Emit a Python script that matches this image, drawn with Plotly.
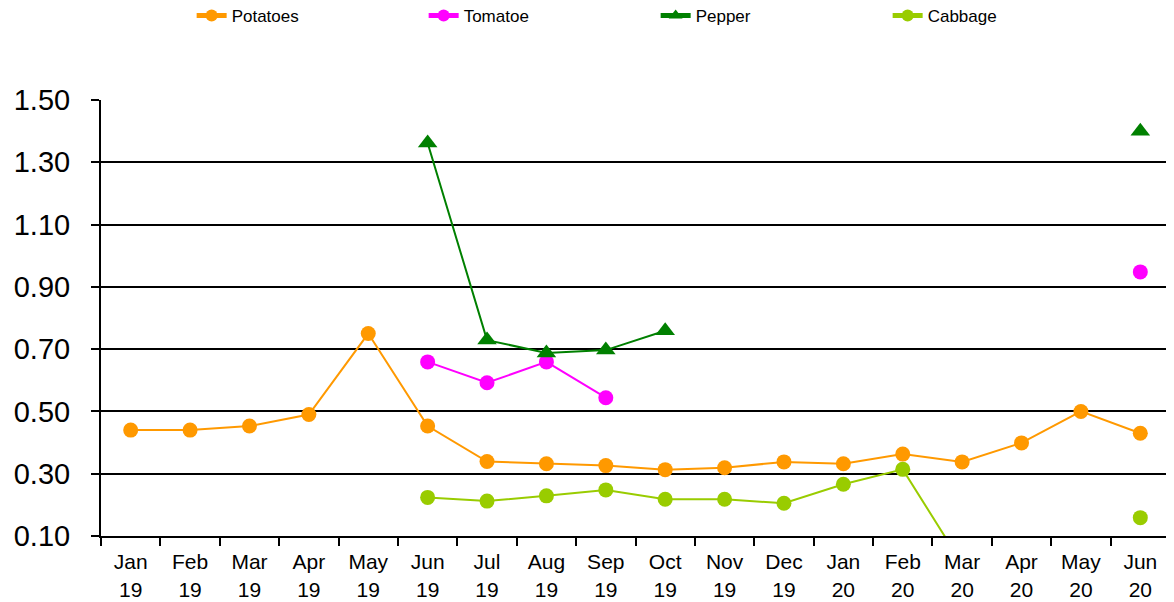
import plotly.graph_objects as go

months = ["Jan<br>19", "Feb<br>19", "Mar<br>19", "Apr<br>19", "May<br>19", "Jun<br>19",
          "Jul<br>19", "Aug<br>19", "Sep<br>19", "Oct<br>19", "Nov<br>19", "Dec<br>19",
          "Jan<br>20", "Feb<br>20", "Mar<br>20", "Apr<br>20", "May<br>20", "Jun<br>20"]

potatoes = [0.44, 0.44, 0.453, 0.49, 0.75, 0.453, 0.339, 0.332, 0.326, 0.313, 0.319, 0.338,
            0.332, 0.363, 0.338, 0.399, 0.50, 0.43]
tomatoe = [None, None, None, None, None, 0.659, 0.592, 0.659, 0.544, None, None, None,
           None, None, None, None, None, 0.948]
pepper = [None, None, None, None, None, 1.362, 0.729, 0.688, 0.697, 0.759, None, None,
          None, None, None, None, None, 1.40]
cabbage = [None, None, None, None, None, 0.224, 0.212, 0.229, 0.248, 0.218, 0.218, 0.205,
           0.266, 0.314, 0.01, None, None, 0.159]

series = [
    ("Potatoes", potatoes, "#FF9900", "circle", 15),
    ("Tomatoe", tomatoe, "#FF00FF", "circle", 15),
    ("Pepper", pepper, "#008000", "triangle-up", 17),
    ("Cabbage", cabbage, "#99CC00", "circle", 15),
]

fig = go.Figure()
for name, vals, color, sym, size in series:
    fig.add_trace(go.Scatter(
        x=months, y=vals, name=name, mode="lines+markers",
        line=dict(color=color, width=2),
        marker=dict(color=color, symbol=sym, size=size),
        connectgaps=False,
    ))

# the page body has an 8px margin, so the figure is drawn 8px right/down
fig.update_layout(
    width=1166, height=594,
    margin=dict(l=93, r=4, t=92, b=66),
    paper_bgcolor="white", plot_bgcolor="white",
    font=dict(family="Liberation Sans, Arial, sans-serif", color="black"),
    showlegend=True,
    legend=dict(orientation="h", xref="container", yref="container",
                x=0.1575, y=0.9865, xanchor="left", yanchor="middle",
                font=dict(size=17), entrywidth=187, entrywidthmode="pixels",
                itemsizing="constant",
                bgcolor="rgba(0,0,0,0)"),
)
fig.update_xaxes(
    type="category", showline=True, linecolor="black", linewidth=2,
    ticks="outside", ticklen=8, tickcolor="black", tickwidth=2,
    tickson="boundaries", showgrid=False, automargin=False,
    tickfont=dict(size=21), range=[-0.5, 17.5], ticklabelstandoff=6,
    tickangle=0,
)
fig.update_yaxes(
    range=[0.1, 1.5], dtick=0.2, tick0=0.1, tickformat=".2f",
    showline=True, linecolor="black", linewidth=2,
    ticks="outside", ticklen=8, tickcolor="black", tickwidth=2,
    showgrid=True, gridcolor="black", gridwidth=2, zeroline=False,
    tickfont=dict(size=29), automargin=False, ticklabelstandoff=15,
)

fig.write_html("out.html")
